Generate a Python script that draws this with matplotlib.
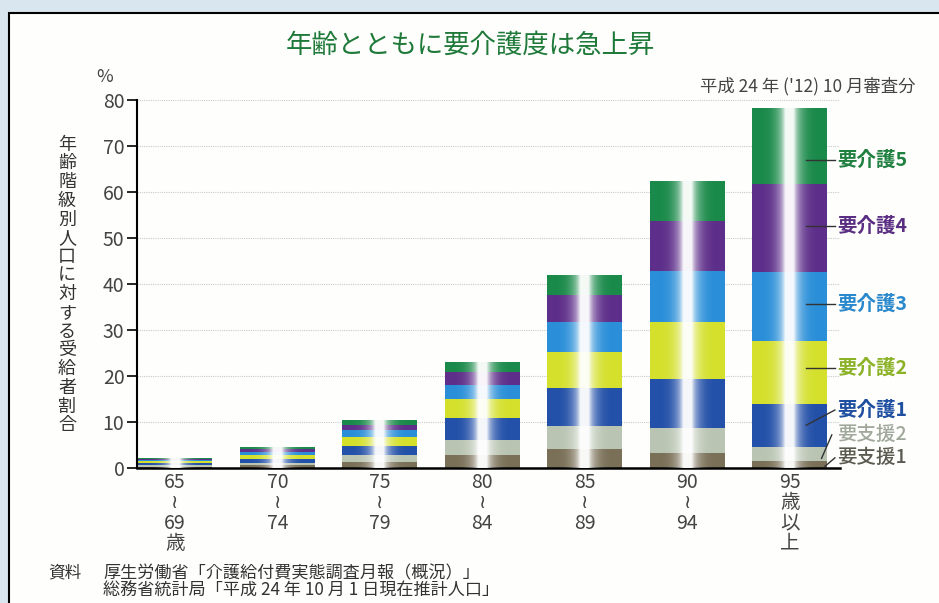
import numpy as np
import matplotlib
matplotlib.use('Agg')
import matplotlib.pyplot as plt
from matplotlib.patches import Rectangle

plt.rcParams['font.family'] = ['Noto Sans CJK JP', 'DejaVu Sans']

# age groups (x tick labels)
ages = ['65\n≀\n69\n歳', '70\n≀\n74', '75\n≀\n79', '80\n≀\n84',
        '85\n≀\n89', '90\n≀\n94', '95\n歳\n以\n上']

# share of population receiving care, by level (%), stacked bottom to top
shien1 = [0.25, 0.6, 1.4, 2.8, 4.1, 3.2, 1.6]
shien2 = [0.3, 0.5, 1.4, 3.3, 5.0, 5.6, 3.0]
kaigo1 = [0.45, 0.8, 2.0, 4.7, 8.2, 10.5, 9.3]
kaigo2 = [0.45, 1.0, 2.0, 4.2, 8.0, 12.5, 13.8]
kaigo3 = [0.3, 0.6, 1.5, 3.0, 6.5, 11.1, 15.0]
kaigo4 = [0.25, 0.6, 1.0, 2.8, 5.8, 10.9, 19.0]
kaigo5 = [0.2, 0.5, 1.1, 2.3, 4.4, 8.6, 16.5]

levels = ['要支援1', '要支援2', '要介護1', '要介護2', '要介護3', '要介護4', '要介護5']
seg_colors = ['#7a7058', '#b9c4b2', '#2350a8', '#d4e02c', '#2a8fd8', '#5e2f8a', '#1a8a4a']
text_colors = ['#5a5a50', '#a0a89c', '#1f4fa0', '#8cb228', '#2a88cc', '#5a2e82', '#1f8040']

series = [shien1, shien2, kaigo1, kaigo2, kaigo3, kaigo4, kaigo5]

fig = plt.figure(figsize=(9.39, 6.03), dpi=100)
fig.patch.set_facecolor('#d9e5ef')
# white panel with black border
fig.patches.append(Rectangle((9/939, -0.05), 1.0, 1 - 13/603 + 0.05, transform=fig.transFigure,
                             facecolor='#fefefc', edgecolor='black', linewidth=1.5, zorder=-5))

ax = fig.add_axes([137/939, 1 - 468/603, (840 - 137)/939, 368/603])
ax.set_facecolor('none')
ax.set_zorder(2)

x = np.arange(len(ages))
w = 0.73
bottom = np.zeros(len(ages))
for vals, c in zip(series, seg_colors):
    ax.bar(x, vals, w, bottom=bottom, color=c, edgecolor='none', zorder=2)
    bottom += np.array(vals)
totals = bottom.copy()

# white shine across each column
u = np.linspace(0, 1, 300)
alpha = np.clip(0.7 * np.exp(-((u - 0.5) / 0.07) ** 2)
                + 0.65 * np.exp(-((u - 0.5) / 0.17) ** 2), 0, 0.96)
shine = np.ones((1, len(u), 4))
shine[0, :, 3] = alpha
for xi, t in zip(x, totals):
    ax.imshow(shine, extent=(xi - w / 2, xi + w / 2, 0, t), aspect='auto', zorder=3,
              interpolation='bilinear')

ax.set_xlim(-0.37, 6.49)
ax.set_ylim(0, 80)
ax.set_yticks(range(0, 81, 10))
ax.yaxis.grid(True, color='#c8cccc', linestyle=(0, (1, 1)), linewidth=0.8, zorder=0)
ax.set_axisbelow(True)
for s in ['top', 'right']:
    ax.spines[s].set_visible(False)
ax.spines['left'].set_linewidth(1.5)
ax.spines['bottom'].set_linewidth(1.8)
ax.tick_params(axis='y', direction='out', length=7, width=1.2, labelsize=14,
               labelcolor='#444444', pad=2)
ax.tick_params(axis='x', length=0, pad=3)
ax.set_xticks(x)
ax.set_xticklabels(ages, fontsize=14, color='#444444', linespacing=0.95)

# labels on the right with leader lines
label_y = [2.2, 7.2, 12.6, 21.7, 35.7, 52.6, 67.0]
start_y = [0.3, 2.1, 9.3, 21.7, 35.7, 52.6, 67.0]
end_x = [6.44, 6.41, 6.44, 6.44, 6.44, 6.44, 6.44]
start_x = [6.34, 6.31, 6.16, 6.16, 6.16, 6.16, 6.16]
for i, lab in enumerate(levels):
    ax.plot([start_x[i], end_x[i]], [start_y[i], label_y[i]], color='#333333', linewidth=1,
            zorder=4, clip_on=False)
    ax.text(6.46, label_y[i], lab, fontsize=14, color=text_colors[i], va='center', ha='left',
            fontweight='bold' if i >= 2 else 'medium', clip_on=False)

fig.text(470/939, 1 - 45/603, '年齢とともに要介護度は急上昇', fontsize=19, color='#1f7a3a',
         ha='center', va='center')
fig.text(915/939, 1 - 86/603, "平成 24 年 ('12) 10 月審査分", fontsize=12.5, color='#444444',
         ha='right', va='center')
fig.text(105/939, 1 - 77/603, '%', fontsize=13, color='#444444', ha='center', va='center')
fig.text(67/939, 1 - 285/603, '\n'.join('年齢階級別人口に対する受給者割合'), fontsize=13,
         color='#333333', ha='center', va='center', linespacing=1.05)
fig.text(48/939, 1 - 573/603, '資料', fontsize=12, color='#333333', va='center')
fig.text(103/939, 1 - 573/603, '厚生労働省「介護給付費実態調査月報（概況）」', fontsize=12.3,
         color='#333333', va='center')
fig.text(103/939, 1 - 591/603, '総務省統計局「平成 24 年 10 月 1 日現在推計人口」', fontsize=12.3,
         color='#333333', va='center')

fig.savefig('out.png', dpi=100, facecolor=fig.get_facecolor())
